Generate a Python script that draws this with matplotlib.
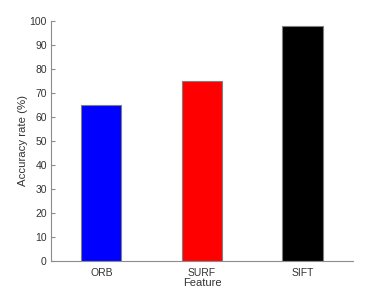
import matplotlib.pyplot as plt

features = ["ORB", "SURF", "SIFT"]
accuracy = [65, 75, 98]
colors = ["#0000FF", "#FF0000", "#000000"]

plt.rcParams["font.family"] = ["Liberation Sans", "DejaVu Sans"]

fig = plt.figure(figsize=(3.9, 2.93), dpi=100)
ax = fig.add_axes([0.1308, 0.110, 0.7742, 0.818])

x = range(1, len(features) + 1)
ax.bar(x, accuracy, width=0.4, color=colors, edgecolor="#7f7f7f", linewidth=0.8)

ax.set_xlim(0.5, 3.5)
ax.set_ylim(0, 100)
ax.set_xticks(list(x))
ax.set_xticklabels(features)
ax.set_yticks(range(0, 101, 10))

for s in ["top", "right"]:
    ax.spines[s].set_visible(False)
for s in ["left", "bottom"]:
    ax.spines[s].set_color("#8c8c8c")
    ax.spines[s].set_linewidth(0.8)

ax.tick_params(axis="y", direction="in", length=3, color="#8c8c8c",
               labelsize=7.5, labelcolor="#333333", pad=3)
ax.tick_params(axis="x", length=0, labelsize=7.5, labelcolor="#333333", pad=5)

ax.set_xlabel("Feature", fontsize=8, color="#333333", labelpad=0)
ax.set_ylabel("Accuracy rate (%)", fontsize=8.2, color="#333333", labelpad=1)

fig.savefig("out.png", dpi=100)
